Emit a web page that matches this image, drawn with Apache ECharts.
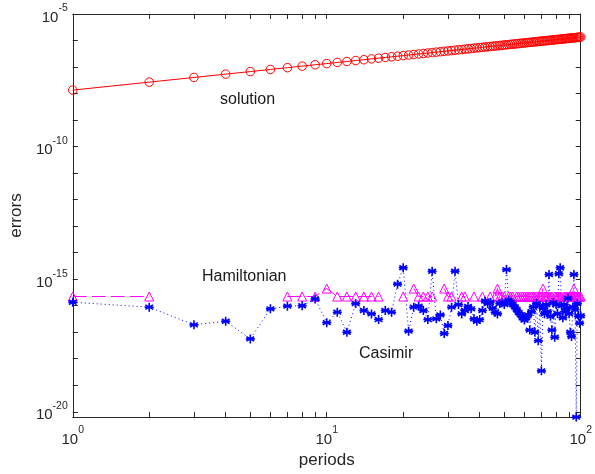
<!DOCTYPE html>
<html>
<head>
<meta charset="utf-8">
<script src="https://cdn.jsdelivr.net/npm/echarts@6/dist/echarts.min.js"></script>
<style>
html, body { margin: 0; padding: 0; background: #fff; }
#chart { width: 595px; height: 474px; }
</style>
</head>
<body>
<div id="chart"></div>
<script>
var periods = [];
for (var p = 1; p <= 100; p++) periods.push(p);

// errors
var solution = [
    1.35e-8, 2.70e-8, 4.05e-8, 5.40e-8, 6.75e-8, 8.10e-8, 9.45e-8, 1.08e-7, 1.22e-7, 1.35e-7,
    1.49e-7, 1.62e-7, 1.76e-7, 1.89e-7, 2.03e-7, 2.16e-7, 2.30e-7, 2.43e-7, 2.57e-7, 2.70e-7,
    2.84e-7, 2.97e-7, 3.11e-7, 3.24e-7, 3.38e-7, 3.51e-7, 3.65e-7, 3.78e-7, 3.92e-7, 4.05e-7,
    4.19e-7, 4.32e-7, 4.46e-7, 4.59e-7, 4.73e-7, 4.86e-7, 5.00e-7, 5.13e-7, 5.27e-7, 5.40e-7,
    5.54e-7, 5.67e-7, 5.81e-7, 5.94e-7, 6.08e-7, 6.21e-7, 6.35e-7, 6.48e-7, 6.62e-7, 6.75e-7,
    6.89e-7, 7.02e-7, 7.16e-7, 7.29e-7, 7.43e-7, 7.56e-7, 7.70e-7, 7.83e-7, 7.97e-7, 8.10e-7,
    8.24e-7, 8.37e-7, 8.51e-7, 8.64e-7, 8.78e-7, 8.91e-7, 9.05e-7, 9.18e-7, 9.32e-7, 9.45e-7,
    9.59e-7, 9.72e-7, 9.86e-7, 9.99e-7, 1.01e-6, 1.03e-6, 1.04e-6, 1.05e-6, 1.07e-6, 1.08e-6,
    1.09e-6, 1.11e-6, 1.12e-6, 1.13e-6, 1.15e-6, 1.16e-6, 1.17e-6, 1.19e-6, 1.20e-6, 1.22e-6,
    1.23e-6, 1.24e-6, 1.26e-6, 1.27e-6, 1.28e-6, 1.30e-6, 1.31e-6, 1.32e-6, 1.34e-6, 1.35e-6
];
// null = zero error (not drawn on log axes)
var hamiltonian = [
    2.22e-16, 2.22e-16, null, null, null, null, 2.22e-16, 2.22e-16, 2.22e-16, 4.44e-16,
    2.22e-16, 2.22e-16, 2.22e-16, 2.22e-16, 2.22e-16, 2.22e-16, null, null, null, 2.22e-16,
    null, 4.44e-16, 2.22e-16, 2.22e-16, 2.22e-16, 2.22e-16, null, null, 4.44e-16, 2.22e-16,
    2.22e-16, null, null, 2.22e-16, 2.22e-16, null, null, 2.22e-16, null, null,
    2.22e-16, null, null, 2.22e-16, null, 2.22e-16, 4.44e-16, 2.22e-16, 2.22e-16, 2.22e-16,
    null, 2.22e-16, 2.22e-16, 2.22e-16, null, 2.22e-16, 2.22e-16, 2.22e-16, 2.22e-16, 2.22e-16,
    2.22e-16, 2.22e-16, 2.22e-16, 2.22e-16, 2.22e-16, 2.22e-16, 2.22e-16, 2.22e-16, 2.22e-16, 2.22e-16,
    4.44e-16, 2.22e-16, 2.22e-16, 2.22e-16, 2.22e-16, 2.22e-16, 2.22e-16, null, 2.22e-16, 2.22e-16,
    2.22e-16, 2.22e-16, 2.22e-16, 2.22e-16, null, 2.22e-16, 2.22e-16, 2.22e-16, 2.22e-16, 2.22e-16,
    2.22e-16, 2.22e-16, 2.22e-16, 4.44e-16, 2.22e-16, 2.22e-16, 2.22e-16, 2.22e-16, 2.22e-16, 2.22e-16
];
var casimir = [
    1.35e-16, 8.8e-17, 1.9e-17, 2.6e-17, 5.6e-18, 7.6e-17, 9.6e-17, 1.0e-16, 1.8e-16, 2.3e-17,
    5.7e-17, 1.0e-17, 1.2e-16, 6.6e-17, 4.9e-17, 3.0e-17, 6.6e-17, 5.7e-17, 6.5e-16, 2.7e-15,
    1.1e-17, 8.8e-17, 9.6e-17, 6.6e-17, 3.0e-17, 2.0e-15, 3.2e-17, 4.5e-17, 8.9e-18, 1.8e-17,
    8.8e-17, 2.0e-15, 1.1e-16, 4.9e-17, 6.6e-17, 9.3e-17, 7.6e-17, 3.2e-17, 2.6e-17, 3.0e-17,
    6.6e-17, 1.5e-16, 1.2e-16, 1.35e-16, 8.0e-17, 5.7e-17, 4.9e-17, 1.2e-16, 1.3e-16, 1.1e-16,
    2.3e-15, 1.6e-16, 1.35e-16, 1.1e-16, 9.0e-17, 7.0e-17, 5.5e-17, 4.5e-17, 3.5e-17, 2.9e-17,
    3.5e-17, 4.5e-17, 1.2e-17, 6.0e-17, 9.0e-17, 1.0e-17, 1.2e-16, 4.8e-18, 1.0e-16, 3.5e-19,
    8.0e-17, 5.0e-17, 1.1e-16, 6.0e-17, 1.5e-15, 4.0e-17, 1.2e-17, 1.3e-16, 6.5e-18, 1.1e-16,
    5.0e-17, 1.6e-15, 2.7e-15, 1.0e-16, 3.5e-17, 1.1e-16, 6.0e-17, 8.0e-17, 1.9e-16, 5.0e-17,
    1.0e-17, 6.9e-18, 9.0e-17, 1.5e-15, 7.0e-17, 6.3e-21, 1.2e-16, 4.0e-17, 2.2e-17, 4.2e-17
];

var xTicks = [1, 2, 3, 4, 5, 6, 7, 8, 9, 10, 20, 30, 40, 50, 60, 70, 80, 90, 100];
var xLabels = [1, 10, 100];
var yTicks = [1e-20, 1e-19, 1e-18, 1e-17, 1e-16, 1e-15, 1e-14, 1e-13, 1e-12, 1e-11,
              1e-10, 1e-9, 1e-8, 1e-7, 1e-6, 1e-5];
var yLabels = [1e-20, 1e-15, 1e-10, 1e-5];
var yMin = 6.3e-21, yMax = 1e-5;

var axisColor = '#262626';
var font = 'Helvetica, Arial, "Liberation Sans", sans-serif';

function pairs(values) {
    return periods.map(function (x, i) {
        return [x, values[i] == null ? '-' : values[i]];
    });
}

function powLabel(v) {
    var e = Math.round(Math.log10(v));
    return '{b|10}{s|' + e + '}';
}

var richPow = {
    b: { fontSize: 15, fontFamily: font, color: axisColor, lineHeight: 22, verticalAlign: 'bottom' },
    s: { fontSize: 10.5, fontFamily: font, color: axisColor, verticalAlign: 'top' }
};

function xAxisOpt(pos, showLabels) {
    return {
        type: 'log', logBase: 10, position: pos, min: 1, max: 100,
        name: showLabels ? 'periods' : '', nameLocation: 'middle', nameGap: 33,
        nameTextStyle: { fontSize: 17, fontFamily: font, color: axisColor },
        axisLine: { show: true, onZero: false, lineStyle: { color: axisColor, width: 1 } },
        axisTick: { show: true, inside: true, length: 5, customValues: xTicks,
                    lineStyle: { color: axisColor, width: 1 } },
        axisLabel: { show: showLabels, customValues: xLabels, margin: 8,
                     formatter: powLabel, rich: richPow },
        splitLine: { show: false }
    };
}

function yAxisOpt(pos, showLabels) {
    return {
        type: 'log', logBase: 10, position: pos, min: yMin, max: yMax,
        name: showLabels ? 'errors' : '', nameLocation: 'middle', nameGap: 42,
        nameTextStyle: { fontSize: 17, fontFamily: font, color: axisColor },
        axisLine: { show: true, onZero: false, lineStyle: { color: axisColor, width: 1 } },
        axisTick: { show: true, inside: true, length: 5, customValues: yTicks,
                    lineStyle: { color: axisColor, width: 1 } },
        axisLabel: { show: showLabels, customValues: yLabels, margin: 5,
                     formatter: powLabel, rich: richPow },
        splitLine: { show: false }
    };
}

var asterisk = 'path://M5 0L5 10M0.7 2.5L9.3 7.5M0.7 7.5L9.3 2.5M0 5L10 5';

var chart = echarts.init(document.getElementById('chart'));
chart.setOption({
    animation: false,
    backgroundColor: '#fff',
    grid: { left: 67, right: 11, top: 14, bottom: 54 },
    xAxis: [xAxisOpt('bottom', true), xAxisOpt('top', false)],
    yAxis: [yAxisOpt('left', true), yAxisOpt('right', false)],
    series: [
        {
            name: 'solution', type: 'line', data: pairs(solution),
            showAllSymbol: true, symbol: 'circle', symbolSize: 8.5,
            lineStyle: { color: '#ff0000', width: 1 },
            itemStyle: { color: 'transparent', borderColor: '#ff0000', borderWidth: 1 }
        },
        {
            name: 'Hamiltonian', type: 'line', data: pairs(hamiltonian),
            showAllSymbol: true, symbol: 'triangle', symbolSize: 9,
            lineStyle: { color: '#ff00ff', width: 1, type: [14, 5] },
            itemStyle: { color: 'transparent', borderColor: '#ff00ff', borderWidth: 1 }
        },
        {
            name: 'Casimir', type: 'line', data: pairs(casimir),
            showAllSymbol: true, symbol: asterisk, symbolSize: 9,
            lineStyle: { color: '#0000ff', width: 1, type: [1, 3] },
            itemStyle: { color: 'transparent', borderColor: '#0000ff', borderWidth: 1.6 }
        }
    ],
    graphic: [
        { type: 'text', left: 220, top: 92,
          style: { text: 'solution', fontSize: 16, fontFamily: font, fill: '#1a1a1a' } },
        { type: 'text', left: 202, top: 269,
          style: { text: 'Hamiltonian', fontSize: 16, fontFamily: font, fill: '#1a1a1a' } },
        { type: 'text', left: 359, top: 346,
          style: { text: 'Casimir', fontSize: 16, fontFamily: font, fill: '#1a1a1a' } }
    ]
});
</script>
</body>
</html>
